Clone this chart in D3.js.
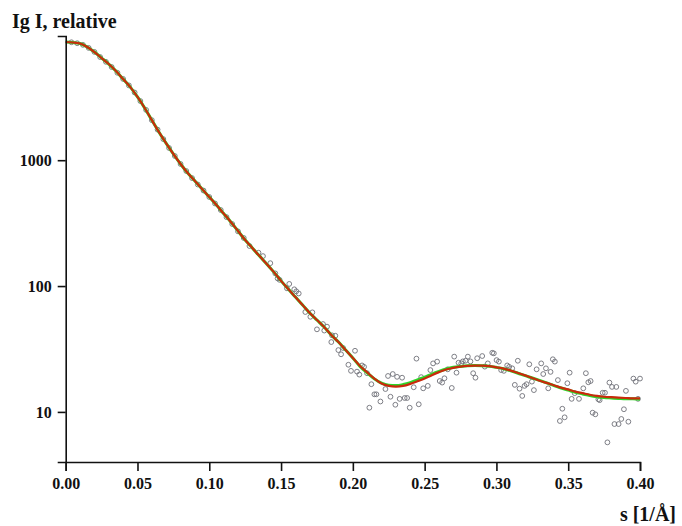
<!DOCTYPE html>
<html>
<head>
<meta charset="utf-8">
<script src="https://cdn.jsdelivr.net/npm/d3@7"></script>
<style>
  html, body { margin: 0; padding: 0; background: #fff; }
  #chart svg { display: block; }
</style>
</head>
<body>
<div id="chart"></div>
<script>
// s grid for the two fitted curves
const fitS = [0, 0.005, 0.01, 0.015, 0.02, 0.025, 0.03, 0.035, 0.04, 0.045, 0.05, 0.055, 0.06, 0.065, 0.07, 0.075,
    0.08, 0.085, 0.09, 0.095, 0.1, 0.105, 0.11, 0.115, 0.12, 0.125, 0.13, 0.135, 0.14, 0.145, 0.15, 0.155,
    0.16, 0.165, 0.17, 0.175, 0.18, 0.185, 0.19, 0.195, 0.2, 0.205, 0.21, 0.215, 0.22, 0.225, 0.23, 0.235,
    0.24, 0.245, 0.25, 0.255, 0.26, 0.265, 0.27, 0.275, 0.28, 0.285, 0.29, 0.295, 0.3, 0.305, 0.31, 0.315,
    0.32, 0.325, 0.33, 0.335, 0.34, 0.345, 0.35, 0.355, 0.36, 0.365, 0.37, 0.375, 0.38, 0.385, 0.39, 0.395, 0.4];

// red fit
const fitRed = [8690, 8610, 8450, 7930, 7230, 6480, 5810, 5110, 4410, 3810, 3180, 2600, 2080, 1670, 1360, 1120,
    933, 791, 684, 591, 510, 440, 377, 323, 274, 232, 201, 173, 150, 129, 110, 94.6,
    81.8, 70.7, 61.1, 53.7, 47.3, 40.8, 35.9, 31.0, 26.8, 23.2, 20.6, 18.4, 16.8, 16.1, 15.9, 16.1,
    16.7, 17.5, 18.4, 19.6, 20.7, 21.7, 22.4, 22.9, 23.2, 23.3, 23.3, 23.1, 22.6, 22.1, 21.3, 20.4,
    19.5, 18.6, 17.7, 17.0, 16.3, 15.6, 15.1, 14.5, 14.1, 13.7, 13.4, 13.2, 13.1, 13.0, 12.9, 12.8, 12.8];

// green fit
const fitGreen = [8690, 8610, 8450, 7930, 7230, 6480, 5810, 5110, 4410, 3810, 3180, 2600, 2080, 1670, 1360, 1120,
    933, 791, 684, 591, 510, 440, 377, 323, 274, 232, 201, 173, 150, 129, 110, 94.6,
    81.8, 70.7, 61.1, 53.7, 47.3, 40.8, 35.9, 31.0, 26.8, 23.0, 20.4, 18.3, 16.9, 16.3, 16.2, 16.5,
    17.1, 18.0, 18.9, 20.0, 21.0, 21.9, 22.6, 23.0, 23.3, 23.4, 23.3, 23.1, 22.6, 22.0, 21.2, 20.3,
    19.4, 18.6, 17.8, 17.0, 16.2, 15.5, 14.9, 14.3, 13.9, 13.5, 13.2, 13.0, 12.9, 12.8, 12.7, 12.7, 12.6];

// experimental points
const expS = [0.004, 0.008, 0.012, 0.016, 0.020, 0.024, 0.028, 0.032, 0.036, 0.040, 0.044, 0.048, 0.052, 0.056,
    0.060, 0.064, 0.068, 0.072, 0.076, 0.080, 0.084, 0.088, 0.092, 0.096, 0.100, 0.104, 0.108, 0.112, 0.116,
    0.120, 0.124,
    0.1280, 0.1343, 0.1374, 0.1425, 0.1460, 0.1476, 0.1490, 0.1541, 0.1557, 0.1592, 0.1606, 0.1623, 0.1669,
    0.1704, 0.1718, 0.1750, 0.1792, 0.1820, 0.1801, 0.1855, 0.1878, 0.1850, 0.1899, 0.1932, 0.1918, 0.2015,
    0.1969, 0.1987, 0.2029, 0.2064, 0.2078, 0.2045, 0.2099, 0.2129, 0.2150, 0.2164, 0.2115, 0.2192,
    0.2227, 0.2245, 0.2278, 0.2296, 0.2308, 0.2343, 0.2262, 0.2326, 0.2361, 0.2378, 0.2396, 0.2424, 0.2443,
    0.2459, 0.2476, 0.2490, 0.2522, 0.2540, 0.2559, 0.2587, 0.2605, 0.2622, 0.2638, 0.2661, 0.2689, 0.2706,
    0.2722, 0.2736, 0.2755, 0.2766, 0.2785, 0.2801, 0.2819, 0.2838, 0.2854, 0.2866, 0.2901, 0.2919, 0.2940,
    0.2971, 0.2982, 0.3001, 0.3017, 0.3033, 0.3052, 0.3075, 0.3089, 0.3110, 0.3128, 0.3149, 0.3161, 0.3180,
    0.3196, 0.3210, 0.3229, 0.3247, 0.3261, 0.3280, 0.3312, 0.3326, 0.3345, 0.3361, 0.3377, 0.3393, 0.3407,
    0.3428, 0.3459, 0.3442, 0.3475, 0.3494, 0.3510, 0.3524, 0.3545, 0.3575, 0.3605, 0.3623, 0.3640, 0.3656,
    0.3670, 0.3689, 0.3710, 0.3719, 0.3740, 0.3756, 0.3773, 0.3787, 0.3805, 0.3822, 0.3835, 0.3851, 0.3870,
    0.3888, 0.3902, 0.3919, 0.3954, 0.3970, 0.4000, 0.3986];

const expI = [8650, 8500, 8250, 7800, 7250, 6600, 6050, 5500, 4950, 4420, 3930, 3450, 2950, 2510,
    2080, 1750, 1470, 1250, 1080, 933, 820, 721, 641, 574, 510, 453, 402, 353, 311,
    272, 241,
    208, 184, 173, 152, 126, 115, 112, 95.9, 104, 94.2, 90.8, 87.3, 62.2,
    57.0, 61.8, 45.3, 49.9, 47.6, 44.3, 40.6, 40.3, 35.9, 31.0, 32.2, 28.7, 30.6,
    23.7, 21.2, 20.9, 23.4, 22.8, 19.8, 20.3, 16.6, 13.8, 13.8, 10.8, 12.1,
    15.2, 19.3, 20.0, 11.4, 19.0, 18.7, 13.2, 12.7, 12.9, 12.9, 10.8, 15.7, 26.5,
    11.5, 18.9, 15.4, 16.1, 21.5, 24.3, 25.1, 17.6, 17.1, 18.5, 21.8, 15.5, 27.5,
    20.5, 24.6, 24.3, 25.2, 25.5, 27.5, 25.2, 20.3, 18.7, 26.7, 27.8, 22.9, 24.3,
    29.5, 29.2, 25.8, 25.1, 21.5, 21.2, 23.4, 22.8, 22.2, 16.4, 25.5, 15.3, 13.4,
    16.1, 16.6, 23.9, 17.4, 14.9, 21.8, 24.3, 20.0, 22.2, 15.4, 20.8, 26.2, 25.1,
    17.9, 10.6, 8.47, 9.06, 16.9, 20.5, 12.7, 14.1, 12.7, 15.4, 20.3, 17.2, 17.6,
    9.86, 9.57, 12.6, 12.4, 14.2, 14.2, 5.73, 17.1, 15.8, 8.01, 15.8, 8.01, 8.79,
    10.5, 14.7, 8.36, 18.4, 17.4, 18.4, 12.7];

const xTicks = [0, 0.05, 0.1, 0.15, 0.2, 0.25, 0.3, 0.35, 0.4];
const yTicks = [10, 100, 1000];

document.addEventListener('DOMContentLoaded', function() {
    const width = 682;
    const height = 526;
    const fontFamily = '"Liberation Serif", "Times New Roman", serif';

    const svg = d3.select('#chart')
        .append('svg')
        .attr('width', width)
        .attr('height', height);

    const x = d3.scaleLinear().domain([0, 0.4]).range([65.7, 640]);
    const y = d3.scaleLog().domain([4, 9700]).range([462, 36]);

    // experimental points (under the fits)
    svg.append('g')
        .selectAll('circle')
        .data(expS.map((s, i) => ({ s: s, v: expI[i] })))
        .enter()
        .append('circle')
        .attr('cx', d => x(d.s))
        .attr('cy', d => y(d.v))
        .attr('r', 2.4)
        .attr('fill', 'none')
        .attr('stroke', '#6f7078')
        .attr('stroke-width', 0.9);

    const line = d3.line()
        .x(d => x(d.s))
        .y(d => y(d.v))
        .curve(d3.curveMonotoneX);

    // green fit, then red fit on top
    svg.append('path')
        .datum(fitS.map((s, i) => ({ s: s, v: fitGreen[i] })))
        .attr('d', line)
        .attr('fill', 'none')
        .attr('stroke', '#2fd42a')
        .attr('stroke-width', 3);

    svg.append('path')
        .datum(fitS.map((s, i) => ({ s: s, v: fitRed[i] })))
        .attr('d', line)
        .attr('fill', 'none')
        .attr('stroke', '#c92a0c')
        .attr('stroke-width', 2.2);

    // axes
    const xAxis = svg.append('g')
        .attr('transform', 'translate(0, 462)')
        .call(d3.axisBottom(x)
            .tickValues(xTicks)
            .tickFormat(d3.format('.2f'))
            .tickSizeOuter(0)
            .tickSize(9)
            .tickPadding(7));

    const yAxis = svg.append('g')
        .attr('transform', 'translate(65.7, 0)')
        .call(d3.axisLeft(y)
            .tickValues(yTicks)
            .tickFormat(d3.format('d'))
            .tickSizeOuter(0)
            .tickSize(8)
            .tickPadding(6));

    [xAxis, yAxis].forEach(ax => {
        ax.select('.domain').attr('stroke', '#111').attr('stroke-width', 1.6);
        ax.selectAll('.tick line').attr('stroke', '#111').attr('stroke-width', 1.6);
        ax.selectAll('text')
            .attr('fill', '#111')
            .style('font-family', fontFamily)
            .style('font-weight', 'bold')
            .style('font-size', '16px');
    });

    // axis titles
    svg.append('text')
        .attr('x', 12)
        .attr('y', 28)
        .style('font-family', fontFamily)
        .style('font-weight', 'bold')
        .style('font-size', '20px')
        .attr('fill', '#111')
        .text('Ig I, relative');

    svg.append('text')
        .attr('x', 676)
        .attr('y', 521)
        .attr('text-anchor', 'end')
        .style('font-family', fontFamily)
        .style('font-weight', 'bold')
        .style('font-size', '20px')
        .attr('fill', '#111')
        .text('s [1/Å]');
});
</script>
</body>
</html>
